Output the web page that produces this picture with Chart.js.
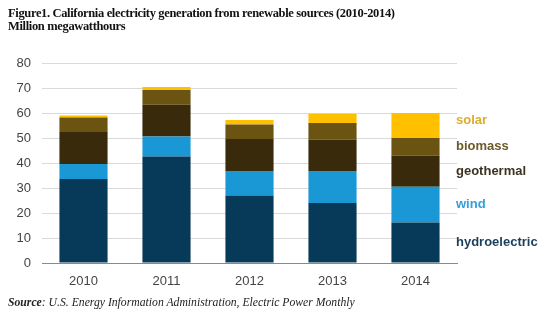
<!DOCTYPE html>
<html>
<head>
<meta charset="utf-8">
<script src="https://cdn.jsdelivr.net/npm/chart.js@4.4.1/dist/chart.umd.min.js"></script>
<style>
  html, body { margin: 0; padding: 0; background: #fff; }
  #wrap { position: relative; width: 550px; height: 328px; overflow: hidden; }
  #chart { position: absolute; left: 0; top: 0; }
  .title {
    position: absolute; left: 8px; top: 7px;
    font: bold 12.5px "Liberation Serif", "Times New Roman", serif;
    letter-spacing: -0.35px;
    line-height: 13px; color: #111; white-space: nowrap;
  }
  .source {
    position: absolute; left: 8px; top: 296px;
    font: italic 11.7px "Liberation Serif", "Times New Roman", serif;
    color: #222; white-space: nowrap;
  }
</style>
</head>
<body>
<div id="wrap">
  <canvas id="chart" width="550" height="328"></canvas>
  <div class="title">Figure1. California electricity generation from renewable sources (2010-2014)<br>Million megawatthours</div>
  <div class="source"><b>Source</b>: U.S. Energy Information Administration, Electric Power Monthly</div>
</div>
<script>
// years on the x axis
const years = ["2010", "2011", "2012", "2013", "2014"];

// generation by source, million MWh
const hydroelectric = [33.6, 42.6, 27.0, 24.0, 16.2];
const wind = [6.0, 8.0, 9.8, 12.8, 14.3];
const geothermal = [12.8, 12.7, 12.8, 12.5, 12.5];
const biomass = [5.8, 5.9, 5.8, 6.7, 7.0];
const solar = [0.8, 1.2, 1.8, 3.7, 10.0];

const seriesNames = ["hydroelectric", "wind", "geothermal", "biomass", "solar"];
const barColors = ["#073a58", "#1a97d5", "#382a0a", "#6b5412", "#ffc000"];
const labelColors = ["#1c3e5e", "#33a0d8", "#3d3322", "#6b5a2a", "#dcae2c"];

const seriesData = [hydroelectric, wind, geothermal, biomass, solar];

// write the series name next to the last bar, centred on its segment
const sideLabels = {
  id: "sideLabels",
  afterDatasetsDraw(chart) {
    const ctx = chart.ctx;
    const yScale = chart.scales.y;
    const last = years.length - 1;
    let base = 0;
    ctx.save();
    ctx.font = "bold 13px 'Liberation Sans', Arial, sans-serif";
    ctx.textBaseline = "middle";
    ctx.textAlign = "left";
    seriesData.forEach((values, i) => {
      const top = base + values[last];
      let yMid = (yScale.getPixelForValue(base) + yScale.getPixelForValue(top)) / 2;
      if (i === seriesData.length - 1) yMid -= 5; // solar sits a little higher
      ctx.fillStyle = labelColors[i];
      ctx.fillText(seriesNames[i], chart.chartArea.right - 1, yMid);
      base = top;
    });
    ctx.restore();
  },
};

new Chart(document.getElementById("chart"), {
  type: "bar",
  data: {
    labels: years,
    datasets: seriesData.map((values, i) => ({
      label: seriesNames[i],
      data: values,
      backgroundColor: barColors[i],
      borderWidth: 0,
      categoryPercentage: 1,
      barPercentage: 0.58,
    })),
  },
  options: {
    responsive: false,
    animation: false,
    events: [],
    layout: { padding: { left: 0, right: 93, top: 63, bottom: 0 } },
    plugins: { legend: { display: false }, tooltip: { enabled: false } },
    scales: {
      x: {
        stacked: true,
        grid: { display: false },
        border: { display: true, color: "#8a8a8a", width: 1 },
        ticks: {
          color: "#444",
          padding: 3,
          font: { family: "'Liberation Sans', Arial, sans-serif", size: 13 },
        },
        afterFit: (scale) => { scale.height = 65; },
      },
      y: {
        stacked: true,
        min: 0,
        max: 80,
        ticks: {
          stepSize: 10,
          color: "#444",
          padding: 11,
          font: { family: "'Liberation Sans', Arial, sans-serif", size: 13 },
        },
        grid: { color: "#dadada", drawTicks: false },
        border: { display: false },
        afterFit: (scale) => { scale.width = 42; },
      },
    },
  },
  plugins: [sideLabels],
});
</script>
</body>
</html>
